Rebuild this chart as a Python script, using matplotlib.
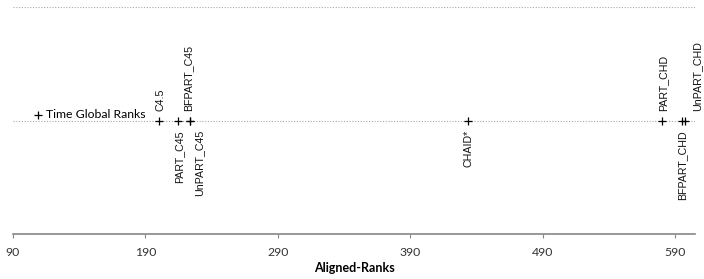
import matplotlib

matplotlib.use("Agg")
import matplotlib.pyplot as plt

# Aligned-rank positions of each method
methods = ["C4.5", "PART_C45", "BFPART_C45", "UnPART_C45",
           "CHAID*", "PART_CHD", "BFPART_CHD", "UnPART_CHD"]
ranks = [200.3, 214.6, 223.5, 224.0, 433.7, 580.2, 595.3, 597.6]
level = [1, 1, 1, 1, 1, 1, 1, 1]
# label side: +1 above the marker, -1 below
label_side = [1, -1, 1, -1, -1, 1, -1, 1]
label_dx = [1, 1, -1, 6, 0, 1, 0, 9]

xticks = [90, 190, 290, 390, 490, 590]

fig = plt.figure(figsize=(7.04, 2.79), dpi=100)
ax = fig.add_axes([13 / 704, 45 / 279, 682 / 704, 227 / 279])

ax.scatter(ranks, level, marker="+", s=30, color="black", linewidths=0.9,
           zorder=3, label="Time Global Ranks")

for name, x, y, side, dx in zip(methods, ranks, level, label_side, label_dx):
    ax.annotate(name, (x, y), xytext=(dx, 7 * side), textcoords="offset points",
                rotation=90, ha="center", va="bottom" if side > 0 else "top",
                fontsize=7.7, family="Liberation Sans", color="#111111")

ax.set_xlim(90, 605)
ax.set_ylim(0, 2)
ax.set_xticks(xticks)
ax.set_xticklabels([str(t) for t in xticks], family="Lato", fontsize=8.8, color="#333333")
ax.set_yticks([])
for yg in (1, 2):
    ax.axhline(yg, color="#a6a6a6", linewidth=0.8, linestyle=(0, (1, 1.5)), zorder=1)

for side in ("top", "right", "left"):
    ax.spines[side].set_visible(False)
ax.spines["bottom"].set_color("#868686")
ax.spines["bottom"].set_linewidth(1.2)
ax.tick_params(axis="x", direction="out", length=3, color="#868686", pad=6)

ax.set_xlabel("Aligned-Ranks", family="Lato", fontsize=9, fontweight="bold", labelpad=3)

ax.legend(loc="upper left", bbox_to_anchor=(0.02, 0.57), frameon=False,
          prop={"family": "Lato", "size": 8.8}, handletextpad=0.2, handlelength=1.0,
          borderaxespad=0)

fig.savefig("out.png", dpi=100, facecolor="white")
